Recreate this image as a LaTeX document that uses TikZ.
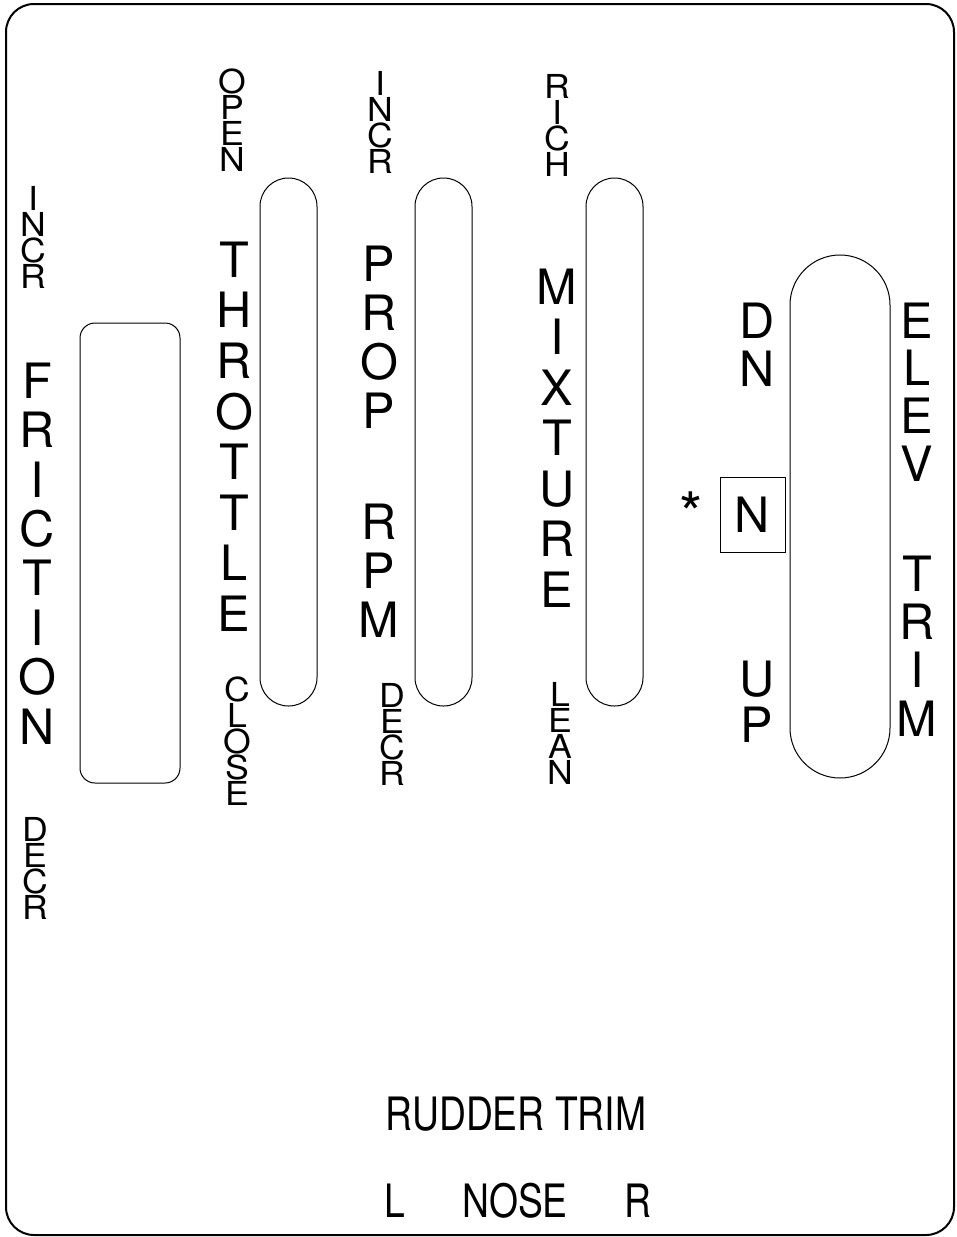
\documentclass[tikz,border=0pt]{standalone}
\usepackage{fontspec}
\setmainfont{TeX Gyre Heros}
\newfontfamily\smallfam[FakeStretch=1.08]{TeX Gyre Heros}
\newfontfamily\botfam[FakeStretch=0.81]{TeX Gyre Heros}
\begin{document}
\begin{tikzpicture}[x=1pt,y=-1pt,
  bigw/.style={font=\fontsize{48.7}{#1}\selectfont, inner sep=0pt, align=center, anchor=north},
  smallw/.style={font=\smallfam\fontsize{33}{26}\selectfont, inner sep=0pt, align=center, anchor=north},
  bottxt/.style={font=\botfam\fontsize{46}{48}\selectfont, inner sep=0pt, anchor=base},
  slot/.style={draw, line width=1pt, rounded corners=28.4pt},
  frame/.style={draw, line width=2pt, rounded corners=28pt}]
\useasboundingbox (0,0) rectangle (957,1237);
% outer frame
\draw[frame] (6,4) rectangle (954,1235);
% friction window
\draw[line width=1pt, rounded corners=15pt] (80,323) rectangle (180,783);
% slots
\draw[slot] (260,178) rectangle (317,706);
\draw[slot] (415,178) rectangle (472,706);
\draw[slot] (586,178) rectangle (643,706);
\draw[line width=1pt, rounded corners=50pt] (790,255) rectangle (890,778);
% friction
\node[smallw] (fincr) at (33,186) {I\\N\\C\\R};
\node[bigw=49.4] (friction) at (37,362.5) {F\\R\\I\\C\\T\\I\\O\\N};
\node[smallw] (fdecr) at (35,817) {D\\E\\C\\R};
% throttle
\node[smallw] (open) at (232,68.5) {O\\P\\E\\N};
\node[bigw=50.6] (throttle) at (234,241.5) {T\\H\\R\\O\\T\\T\\L\\E};
\node[smallw] (close) at (237,677) {C\\L\\O\\S\\E};
% prop rpm
\node[smallw] (pincr) at (380,71) {I\\N\\C\\R};
\node[bigw=49] (prop) at (379,245.5) {P\\R\\O\\P};
\node[bigw=49] (rpm) at (379,503.5) {R\\P\\M};
\node[smallw] (pdecr) at (392,683) {D\\E\\C\\R};
% mixture
\node[smallw] (rich) at (557,74) {R\\I\\C\\H};
\node[bigw=50.5] (mixture) at (557,268.5) {M\\I\\X\\T\\U\\R\\E};
\node[smallw] (lean) at (560,682) {L\\E\\A\\N};
% elevator trim
\node[bigw=48] (dn) at (757,302.5) {D\\N};
\node[bigw=46] (up) at (757,660.5) {U\\P};
\node[font=\fontsize{48.7}{50}\selectfont, inner sep=0pt, text height=35pt, text depth=0pt, draw, line width=1pt, minimum width=65pt, minimum height=75pt] (nbox) at (752.5,514.5) {N};
\node[font=\fontsize{60}{62}\selectfont, inner sep=0pt, anchor=base] (ast) at (691,535) {*};
\node[bigw=47.7] (elev) at (917,302.5) {E\\L\\E\\V};
\node[bigw=48.3] (trim) at (917,555.5) {T\\R\\I\\M};
% rudder trim
\node[bottxt] (rud) at (516,1130) {RUDDER TRIM};
\node[bottxt] (rl) at (395,1217) {L};
\node[bottxt] (rn) at (515,1217) {NOSE};
\node[bottxt] (rr) at (638,1217) {R};
\end{tikzpicture}
\end{document}
